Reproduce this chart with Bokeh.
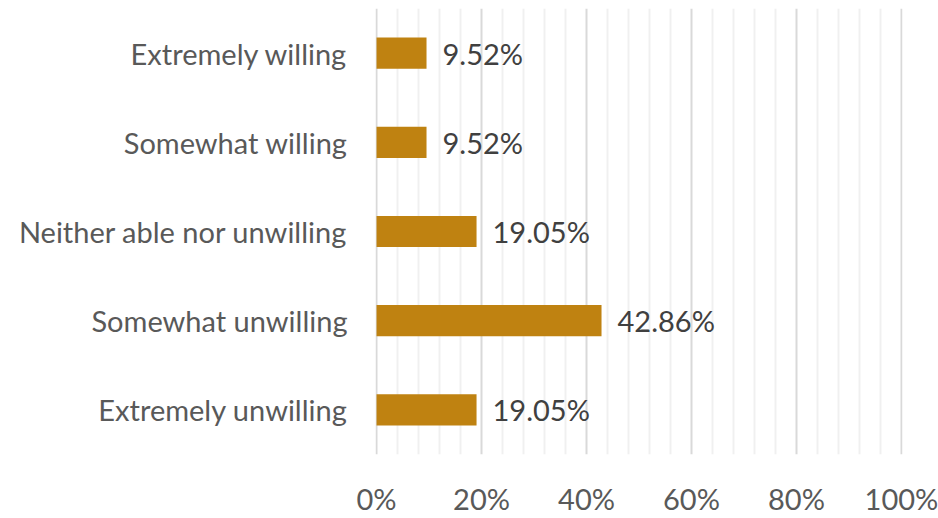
from bokeh.plotting import figure
from bokeh.models import ColumnDataSource, NumeralTickFormatter, FixedTicker, Range1d
from bokeh.core.properties import value
from bokeh.embed import file_html
from bokeh.resources import INLINE

categories = ["Extremely unwilling", "Somewhat unwilling", "Neither able nor unwilling",
              "Somewhat willing", "Extremely willing"]
values = [19.05, 42.86, 19.05, 9.52, 9.52]
labels = ["19.05%", "42.86%", "19.05%", "9.52%", "9.52%"]
major_ticks = [0, 20, 40, 60, 80, 100]
minor_ticks = [4, 8, 12, 16, 24, 28, 32, 36, 44, 48, 52, 56, 64, 68, 72, 76, 84, 88, 92, 96]

FONT = "Lato"
FS = "29px"
src = ColumnDataSource(dict(cat=categories, val=values, lab=labels))

p = figure(y_range=categories, x_range=Range1d(-0.2, 100.2), width=938, height=518,
           output_backend="svg", toolbar_location=None,
           min_border_left=375, min_border_right=36, min_border_top=8, min_border_bottom=56)
p.outline_line_color = None
p.background_fill_color = "white"
p.border_fill_color = "white"

p.hbar(y="cat", right="val", left=0, height=0.35, source=src,
       fill_color="#BF8211", line_color=None)
p.text(x="val", y="cat", text="lab", source=src, x_offset=16,
       text_align="left", text_baseline="middle",
       text_font=value(FONT), text_font_size=FS, text_color="#404040")

p.xaxis.ticker = FixedTicker(ticks=major_ticks, minor_ticks=minor_ticks)
p.xaxis.formatter = NumeralTickFormatter(format="0")
p.xaxis.major_label_overrides = {t: f"{t}%" for t in major_ticks}
p.xaxis.axis_line_color = None
p.xaxis.major_tick_line_color = None
p.xaxis.minor_tick_line_color = None
p.xaxis.major_label_standoff = 20
p.xaxis.major_label_text_font = FONT
p.xaxis.major_label_text_font_size = FS
p.xaxis.major_label_text_color = "#595959"

p.yaxis.axis_line_color = None
p.yaxis.major_tick_line_color = None
p.yaxis.minor_tick_line_color = None
p.yaxis.major_label_standoff = 22
p.yaxis.major_label_text_font = FONT
p.yaxis.major_label_text_font_size = FS
p.yaxis.major_label_text_color = "#595959"

p.xgrid.grid_line_color = "#D9D9D9"
p.xgrid.grid_line_width = 2
p.xgrid.minor_grid_line_color = "#F0F0F0"
p.xgrid.minor_grid_line_width = 2
p.ygrid.grid_line_color = None

open("out.html", "w").write(file_html(p, INLINE))
